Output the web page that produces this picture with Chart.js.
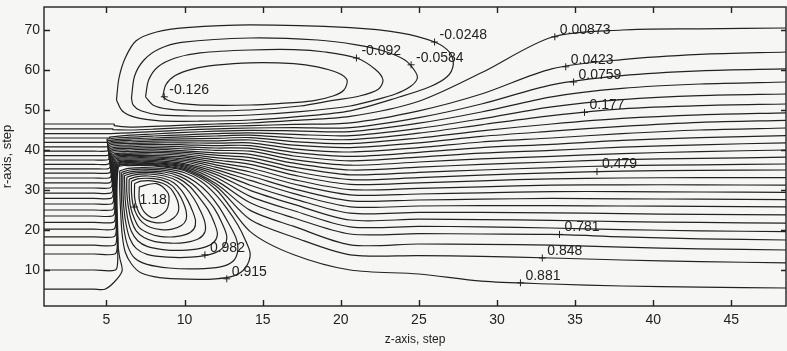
<!DOCTYPE html>
<html>
<head>
<meta charset="utf-8">
<script src="https://cdn.jsdelivr.net/npm/chart.js@4/dist/chart.umd.min.js"></script>
<style>
  html, body { margin: 0; padding: 0; background: #f6f6f4; }
  #plot { display: block; }
</style>
</head>
<body>
<canvas id="plot" width="787" height="351"></canvas>
<script>
// axis ticks
const zTicks = [5, 10, 15, 20, 25, 30, 35, 40, 45];
const rTicks = [10, 20, 30, 40, 50, 60, 70];

// z stations where the open stream lines are read, downstream of the step
const stationZ = [6.5, 8, 10, 12, 14.2, 17, 20.6, 25, 29, 33.5, 38, 43, 48.5];

// open stream lines: level, r at inlet, z of the step column, r where the line leaves the column
const openLevels = [0.00873, 0.0423, 0.0759, 0.109, 0.143, 0.177, 0.210, 0.244, 0.278, 0.311, 0.345, 0.378, 0.412, 0.446,
  0.479, 0.513, 0.546, 0.580, 0.613, 0.647, 0.680, 0.714, 0.748, 0.781, 0.815, 0.848, 0.881];
const inletR = [46.5, 45.3, 44.1, 43.0, 41.9, 40.8, 39.7, 38.6, 37.5, 36.4, 35.3, 34.2, 33.0, 31.8,
  30.5, 29.2, 27.9, 26.5, 25.0, 23.5, 21.9, 20.2, 18.3, 16.2, 14.0, 10.0, 5.2];
const columnZ = [5.5, 5.4, 5.3, 5.2, 5.05, 5.08, 5.11, 5.14, 5.17, 5.2, 5.23, 5.27, 5.3, 5.33,
  5.36, 5.4, 5.43, 5.46, 5.5, 5.53, 5.57, 5.6, 5.63, 5.66, 5.69, 5.72, 5.75];
const columnTopR = [46.1, 45.1, 44.1, 43.2, 42.7, 42.3, 41.9, 41.5, 41.1, 40.7, 40.3, 39.9, 39.5, 39.1,
  38.7, 38.4, 38.1, 37.8, 37.5, 37.2, 36.9, 36.6, 36.4, 36.2, 36.0, 35.8, 35.6];
// the lowest inlet line climbs into the column along a slanted foot, [z, r]
const lowestFoot = [[4.9, 5.2], [5.5, 7.0], [6.0, 9.8], [5.85, 13.0]];

// r of each open line at stationZ
const r_0_00873 = [45.7, 45.9, 46.2, 46.5, 46.75, 47.4, 48.4, 52.2, 59.3, 68.2, 70.0, 70.3, 70.5];
const r_0_0423 = [45.0, 45.2, 45.6, 45.9, 46.1, 46.4, 46.8, 49.8, 54.0, 60.3, 62.6, 63.9, 64.5];
const r_0_0759 = [44.3, 44.6, 45.0, 45.3, 45.5, 45.6, 45.6, 48.1, 51.5, 56.3, 58.6, 59.8, 60.3];
const r_0_109 = [43.7, 44.0, 44.4, 44.7, 44.9, 44.8, 44.6, 46.7, 49.5, 53.3, 55.4, 56.5, 57.0];
const r_0_143 = [43.2, 43.5, 43.8, 44.1, 44.3, 43.9, 43.6, 45.4, 47.8, 50.8, 52.6, 53.6, 54.0];
const r_0_177 = [42.8, 43.0, 43.3, 43.5, 43.7, 43.0, 42.6, 44.2, 46.3, 48.6, 50.3, 51.1, 51.5];
const r_0_210 = [42.4, 42.6, 42.8, 42.9, 43.1, 42.1, 41.6, 43.0, 44.8, 46.5, 47.9, 48.8, 49.3];
const r_0_244 = [42.0, 42.2, 42.3, 42.3, 42.5, 41.2, 40.6, 41.8, 43.4, 44.7, 45.9, 46.9, 47.4];
const r_0_278 = [41.6, 41.8, 41.8, 41.7, 41.8, 40.3, 39.5, 40.6, 42.0, 43.0, 44.1, 45.0, 45.5];
const r_0_311 = [41.2, 41.4, 41.3, 41.1, 41.1, 39.4, 38.4, 39.4, 40.6, 41.4, 42.4, 43.1, 43.6];
const r_0_345 = [40.8, 41.0, 40.8, 40.5, 40.4, 38.5, 37.3, 38.2, 39.2, 39.9, 40.7, 41.3, 41.8];
const r_0_378 = [40.4, 40.6, 40.3, 39.9, 39.7, 37.6, 36.2, 37.0, 37.8, 38.4, 39.1, 39.6, 40.0];
const r_0_412 = [40.0, 40.2, 39.8, 39.3, 38.9, 36.7, 35.0, 35.7, 36.4, 37.0, 37.6, 37.9, 38.2];
const r_0_446 = [39.6, 39.8, 39.4, 38.7, 38.1, 35.7, 33.8, 34.4, 35.0, 35.6, 36.1, 36.3, 36.5];
const r_0_479 = [39.2, 39.4, 39.0, 38.1, 37.3, 34.7, 32.6, 33.1, 33.7, 34.3, 34.7, 34.9, 35.0];
const r_0_513 = [38.9, 39.0, 38.6, 37.5, 36.4, 33.7, 31.4, 31.8, 32.3, 32.8, 33.0, 33.1, 33.1];
const r_0_546 = [38.6, 38.6, 38.2, 36.9, 35.5, 32.6, 30.1, 30.4, 30.8, 31.2, 31.3, 31.3, 31.2];
const r_0_580 = [38.3, 38.3, 37.8, 36.3, 34.5, 31.5, 28.8, 29.0, 29.3, 29.6, 29.6, 29.5, 29.4];
const r_0_613 = [38.0, 38.0, 37.4, 35.7, 33.5, 30.3, 27.3, 27.5, 27.7, 27.9, 27.8, 27.7, 27.6];
const r_0_647 = [37.7, 37.7, 37.0, 35.1, 32.4, 29.1, 25.8, 26.0, 26.1, 26.1, 26.0, 25.9, 25.8];
const r_0_680 = [37.4, 37.4, 36.6, 34.5, 31.2, 27.8, 24.2, 24.4, 24.4, 24.3, 24.1, 23.9, 23.8];
const r_0_714 = [37.1, 37.1, 36.3, 33.9, 29.9, 26.4, 22.5, 22.7, 22.6, 22.4, 22.1, 21.9, 21.7];
const r_0_748 = [36.9, 36.8, 36.0, 33.2, 28.4, 24.8, 20.8, 20.9, 20.8, 20.5, 20.1, 19.8, 19.6];
const r_0_781 = [36.7, 36.6, 35.7, 32.4, 26.8, 23.0, 19.0, 19.1, 19.0, 18.9, 18.3, 17.8, 17.5];
const r_0_815 = [36.5, 36.4, 35.4, 31.6, 24.9, 20.9, 16.3, 16.5, 16.4, 16.2, 15.7, 15.3, 15.0];
const r_0_848 = [36.3, 36.2, 35.1, 31.0, 22.6, 18.2, 13.8, 13.6, 13.4, 13.0, 12.5, 12.1, 11.8];
const r_0_881 = [36.1, 36.0, 34.8, 30.2, 19.6, 13.8, 10.0, 9.0, 7.2, 6.5, 6.0, 5.7, 5.5];

const openR = [r_0_00873, r_0_0423, r_0_0759, r_0_109, r_0_143, r_0_177, r_0_210, r_0_244, r_0_278,
  r_0_311, r_0_345, r_0_378, r_0_412, r_0_446, r_0_479, r_0_513, r_0_546, r_0_580, r_0_613, r_0_647,
  r_0_680, r_0_714, r_0_748, r_0_781, r_0_815, r_0_848, r_0_881];

// closed lines of the upper (negative) eddy, [z, r]
const eddy_m0_0248 = [[5.64,52.5],[5.8,58],[6.2,63],[6.9,67.3],[8.2,69.5],[10.1,70.6],[14.2,71.3],[20.6,70.6],[23.8,69.3],[26,67],[27,64.3],[27.2,61.3],[26.8,58.3],[25.7,55.8],[23.8,53.3],[20.6,49.8],[17.4,48.4],[14.2,47.5],[11,47.2],[8.4,47.3],[6.8,48.2],[6,49.8],[5.64,52.5]];
const eddy_m0_0584 = [[6.6,53],[6.8,58.5],[7.4,62.5],[8.4,65.3],[9.8,66.9],[14.2,68],[18.5,67.5],[21,66.3],[22.7,64.8],[24.1,62.5],[24.7,60],[24.9,58],[24.5,56],[23.5,54],[22,52.3],[20.6,51],[17.4,49.6],[14.2,48.75],[11,48.5],[8.5,48.7],[7.2,49.8],[6.7,51.3],[6.6,53]];
const eddy_m0_092 = [[7.5,53.3],[7.7,57.5],[8.3,60.8],[9.4,63],[11,64.3],[14.2,65],[17,65.1],[19,64.5],[21,63],[22.2,60.2],[22.7,57.5],[22.4,55.2],[21.2,53.5],[19.5,52.4],[17.4,51],[14.2,50],[11,49.8],[9,50.2],[8,51.2],[7.5,53.3]];
const eddy_m0_126 = [[8.6,53.3],[8.8,56.3],[9.4,58.6],[10.5,60.2],[12,61.2],[14.2,61.8],[17,61.6],[18.5,60.8],[19.8,59.3],[20.4,57.5],[20.2,55],[19.5,53.5],[18.2,52.3],[16,51.6],[14.2,51.25],[11.5,51.2],[9.8,51.6],[9,52.3],[8.6,53.3]];

// closed lines of the lower bubble behind the step, [z, r]
const bubble_0_915 = [[5.85,34.8],[6.4,35.4],[7.4,35.6],[8.8,35.3],[10,34.3],[11,32.3],[11.9,29.2],[12.7,25.4],[13.4,21.3],[13.9,17.4],[14.2,14],[13.9,10.6],[13.2,8.6],[12,7.8],[10.2,7.7],[8.4,8.1],[7.2,9.3],[6.6,11.5],[6.2,14.5],[6,19],[5.9,25],[5.85,30],[5.85,34.8]];
const bubble_0_949 = [[5.95,34.4],[6.5,35],[7.4,35.2],[8.7,34.9],[9.8,33.9],[10.7,32],[11.5,29.3],[12.2,25.8],[12.8,21.8],[13.3,17.9],[13.4,14.7],[13.1,12.2],[12.3,10.8],[10.8,10.3],[9,10.5],[7.6,11.4],[6.8,13],[6.4,15.6],[6.15,19.5],[6,25],[5.95,30],[5.95,34.4]];
const bubble_0_982 = [[6.05,34],[6.6,34.6],[7.5,34.8],[8.7,34.5],[9.7,33.4],[10.5,31.5],[11.2,28.8],[11.9,25.4],[12.4,21.7],[12.7,18.4],[12.5,15.8],[11.8,14.1],[10.4,13.2],[8.9,13.2],[7.6,13.9],[6.9,15.4],[6.5,17.8],[6.25,21.5],[6.1,26],[6.05,30.5],[6.05,34]];
const bubble_1_016 = [[6.15,33.6],[6.7,34.2],[7.6,34.4],[8.7,34],[9.6,32.9],[10.3,31],[10.9,28.3],[11.5,25.1],[11.9,21.8],[12.1,18.9],[11.8,16.7],[11,15.4],[9.8,14.9],[8.6,15.1],[7.6,15.9],[7,17.3],[6.6,19.6],[6.35,23],[6.2,27.5],[6.15,33.6]];
const bubble_1_050 = [[6.3,33.2],[6.8,33.8],[7.7,34],[8.7,33.5],[9.5,32.3],[10.1,30.4],[10.6,27.8],[11,24.9],[11.3,21.9],[11.3,19.5],[10.9,17.8],[10.1,16.9],[9.1,16.7],[8.1,17.1],[7.4,18.1],[6.9,19.8],[6.6,22.3],[6.4,25.8],[6.3,29.5],[6.3,33.2]];
const bubble_1_083 = [[6.45,32.7],[6.9,33.3],[7.7,33.5],[8.6,33],[9.3,31.8],[9.8,29.9],[10.2,27.4],[10.5,24.8],[10.7,22.3],[10.6,20.3],[10.1,18.9],[9.3,18.3],[8.4,18.4],[7.7,19.2],[7.1,20.6],[6.8,22.7],[6.55,25.6],[6.45,29.2],[6.45,32.7]];
const bubble_1_117 = [[6.6,32.2],[7,32.8],[7.8,32.9],[8.6,32.4],[9.2,31.1],[9.6,29.2],[9.9,27],[10.1,24.7],[10.1,22.6],[9.8,21.1],[9.2,20.2],[8.5,20.1],[7.8,20.7],[7.3,21.9],[6.95,23.7],[6.7,26.3],[6.6,29.4],[6.6,32.2]];
const bubble_1_150 = [[6.8,31.6],[7.2,32.2],[7.9,32.3],[8.6,31.7],[9.1,30.4],[9.4,28.6],[9.6,26.6],[9.6,24.6],[9.3,23],[8.8,22],[8.2,21.8],[7.6,22.4],[7.2,23.6],[6.95,25.5],[6.8,28.2],[6.8,31.6]];
const bubble_1_184 = [[7.1,30.8],[8.2,31.6],[8.9,29.5],[9,27.3],[8.8,24.8],[8,23],[7.4,24.6],[7.1,27.5],[7.1,30.8]];

const closedLines = [eddy_m0_0248, eddy_m0_0584, eddy_m0_092, eddy_m0_126,
  bubble_0_915, bubble_0_949, bubble_0_982, bubble_1_016, bubble_1_050, bubble_1_083,
  bubble_1_117, bubble_1_150, bubble_1_184];

// contour labels: text and the point marked with "+"
const labelText = ['-0.126', '-0.092', '-0.0584', '-0.0248', '0.00873', '0.0423', '0.0759', '0.177', '0.479', '0.781', '0.848', '0.881', '0.915', '0.982', '1.18'];
const labelZ = [8.7, 21.0, 24.5, 26.0, 33.7, 34.4, 34.9, 35.6, 36.4, 34.0, 32.9, 31.5, 12.7, 11.3, 6.8];
const labelR = [53.3, 63.0, 61.3, 67.0, 68.3, 60.8, 57.0, 49.4, 34.6, 18.9, 13.0, 6.8, 7.8, 13.8, 25.75];

const ink = '#222222';
const FONT = '"Liberation Sans", Arial, Helvetica, sans-serif';

function lineSet(points) {
  return {
    data: points,
    showLine: true,
    pointRadius: 0,
    borderColor: ink,
    borderWidth: 1.2,
    tension: 0.3,
    fill: false,
  };
}

const datasets = [];
const last = openLevels.length - 1;
openLevels.forEach((lev, i) => {
  const zc = columnZ[i];
  const r0 = inletR[i];
  let pts;
  if (i === last) {
    pts = [{ x: 1, y: r0 }, { x: 4.2, y: r0 }].concat(lowestFoot.map(([z, r]) => ({ x: z, y: r })));
    pts.push({ x: zc, y: 16 }, { x: zc, y: columnTopR[i] });
  } else {
    // inlet run, a short rounded corner, then up the step column
    pts = [
      { x: 1, y: r0 },
      { x: 4.2, y: r0 },
      { x: zc - 0.15, y: r0 },
      { x: zc, y: r0 + (columnTopR[i] - r0) * 0.1 },
      { x: zc, y: columnTopR[i] },
    ];
  }
  openR[i].forEach((r, j) => pts.push({ x: stationZ[j], y: r }));
  datasets.push(lineSet(pts));
});
closedLines.forEach(loop => {
  datasets.push(lineSet(loop.map(([z, r]) => ({ x: z, y: r }))));
});

// frame, inward ticks and contour labels
const framePlugin = {
  id: 'frame',
  afterDatasetsDraw(chart) {
    const { ctx, chartArea: a, scales: { x, y } } = chart;
    ctx.save();
    ctx.strokeStyle = ink;
    ctx.lineWidth = 1.4;
    ctx.strokeRect(a.left, a.top, a.right - a.left, a.bottom - a.top);
    ctx.beginPath();
    zTicks.forEach(v => {
      const px = Math.round(x.getPixelForValue(v)) + 0.5;
      ctx.moveTo(px, a.bottom); ctx.lineTo(px, a.bottom - 6);
      ctx.moveTo(px, a.top); ctx.lineTo(px, a.top + 6);
    });
    rTicks.forEach(v => {
      const py = Math.round(y.getPixelForValue(v)) + 0.5;
      ctx.moveTo(a.left, py); ctx.lineTo(a.left + 6, py);
      ctx.moveTo(a.right, py); ctx.lineTo(a.right - 5, py);
    });
    ctx.stroke();

    ctx.font = '14px ' + FONT;
    ctx.fillStyle = ink;
    ctx.textBaseline = 'middle';
    ctx.textAlign = 'left';
    ctx.lineWidth = 1;
    labelText.forEach((t, i) => {
      const px = x.getPixelForValue(labelZ[i]);
      const py = y.getPixelForValue(labelR[i]);
      ctx.beginPath();
      ctx.moveTo(px - 3.5, py); ctx.lineTo(px + 3.5, py);
      ctx.moveTo(px, py - 3.5); ctx.lineTo(px, py + 3.5);
      ctx.stroke();
      ctx.fillText(t, px + 5, py - 7);
    });
    ctx.restore();
  }
};

Chart.defaults.font.family = FONT;
Chart.defaults.color = ink;

new Chart(document.getElementById('plot'), {
  type: 'scatter',
  data: { datasets },
  options: {
    responsive: false,
    animation: false,
    devicePixelRatio: 1,
    layout: { padding: { top: 7, right: 1, left: 0, bottom: 0 } },
    plugins: { legend: { display: false }, tooltip: { enabled: false } },
    scales: {
      x: {
        type: 'linear',
        min: 1,
        max: 48.5,
        afterBuildTicks: s => { s.ticks = zTicks.map(v => ({ value: v })); },
        afterFit: s => { s.height = 45; s.paddingLeft = 0; s.paddingRight = 0; },
        grid: { display: false, drawTicks: false },
        border: { display: false },
        ticks: { font: { size: 14 }, padding: 6, maxRotation: 0 },
        title: { display: true, text: 'z-axis, step', font: { size: 12 }, padding: { top: 0, bottom: 4 } },
      },
      y: {
        type: 'linear',
        min: 1,
        max: 75.75,
        afterBuildTicks: s => { s.ticks = rTicks.map(v => ({ value: v })); },
        afterFit: s => { s.width = 44; s.paddingTop = 0; s.paddingBottom = 0; },
        grid: { display: false, drawTicks: false },
        border: { display: false },
        ticks: { font: { size: 14 }, padding: 4 },
        title: { display: true, text: 'r-axis, step', font: { size: 13 }, padding: { top: 0, bottom: 0 } },
      },
    },
  },
  plugins: [framePlugin],
});
</script>
</body>
</html>
